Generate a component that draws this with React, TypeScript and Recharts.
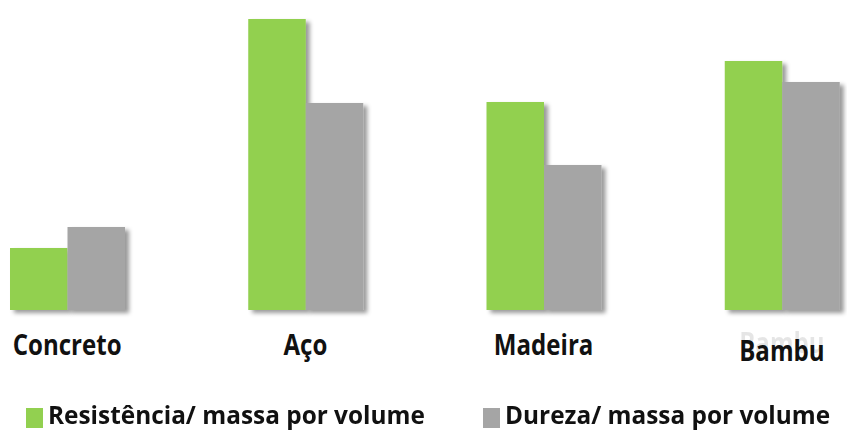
import React from 'react';
import { BarChart, Bar, XAxis, YAxis, Legend } from 'recharts';

const categories = ['Concreto', 'Aço', 'Madeira', 'Bambu'];
const resistencia = [62, 291, 208, 249];
const dureza = [83, 207, 145, 228];
const seriesNames = ['Resistência/ massa por volume', 'Dureza/ massa por volume'];

const GREEN = '#92D050';
const GRAY = '#A5A5A5';
const FONT = '"Open Sans", sans-serif';

const data = categories.map((c, i) => ({ name: c, r: resistencia[i], d: dureza[i] }));

const SHIFT = 52;

const ShadowBar = (props: any) => {
  const { x, y, width, height, fill } = props;
  if (!height || height <= 0) return null;
  return <rect x={x} y={y} width={width} height={height} fill={fill} filter="url(#barShadow)" />;
};

const CatTick = (props: any) => {
  const { x, y, payload } = props;
  const isBambu = payload.value === 'Bambu';
  const base = y + 37;
  const label = (yy: number, op: number) => (
    <text
      transform={`translate(${x},${yy}) scale(0.86,1)`}
      x={0}
      y={0}
      textAnchor="middle"
      fontFamily={FONT}
      fontWeight="bold"
      fontSize={28}
      fill="#111"
      opacity={op}
    >
      {payload.value}
    </text>
  );
  return (
    <g>
      {isBambu && label(base - 2, 0.1)}
      {label(isBambu ? base + 6 : base, 1)}
    </g>
  );
};

const LegendContent = () => {
  const items = [
    { label: seriesNames[0], color: GREEN, left: 26 + SHIFT },
    { label: seriesNames[1], color: GRAY, left: 483 + SHIFT },
  ];
  return (
    <div style={{ position: 'relative', height: 30, width: 953 }}>
      {items.map((it) => (
        <div key={it.label} style={{ position: 'absolute', left: it.left, top: 0, display: 'flex', alignItems: 'flex-start', height: 30 }}>
          <div style={{ width: 17, height: 20, background: it.color, marginRight: 5, marginTop: 8 }} />
          <span
            style={{
              fontFamily: FONT,
              fontWeight: 'bold',
              fontSize: 25,
              lineHeight: '25px',
              marginTop: 2,
              color: '#111',
              whiteSpace: 'nowrap',
              display: 'inline-block',
              transform: 'scaleX(0.975)',
              transformOrigin: 'left center',
            }}
          >
            {it.label}
          </span>
        </div>
      ))}
    </div>
  );
};

export default function App() {
  return (
    <div style={{ position: 'absolute', left: 0, top: 0, width: 847, height: 433, overflow: 'hidden', background: '#fff' }}>
      <div style={{ position: 'absolute', left: -SHIFT, top: 0 }}>
        <BarChart width={953} height={433} data={data} margin={{ top: 10, right: 0, bottom: 30, left: 0 }} barGap={0} barCategoryGap={0}>
          <defs>
            <filter id="barShadow" x="-20%" y="-20%" width="160%" height="160%">
              <feDropShadow dx={4} dy={3} stdDeviation={2.2} floodColor="#000" floodOpacity={0.4} />
            </filter>
          </defs>
          <YAxis hide domain={[0, 300]} />
          <XAxis dataKey="name" axisLine={false} tickLine={false} height={63} tick={<CatTick />} interval={0} />
          <Legend verticalAlign="bottom" content={<LegendContent />} wrapperStyle={{ left: 0, width: 953, height: 30, bottom: 3 }} />
          <Bar dataKey="r" name={seriesNames[0]} fill={GREEN} barSize={57.5} shape={<ShadowBar />} isAnimationActive={false} />
          <Bar dataKey="d" name={seriesNames[1]} fill={GRAY} barSize={57.5} shape={<ShadowBar />} isAnimationActive={false} />
        </BarChart>
      </div>
    </div>
  );
}
